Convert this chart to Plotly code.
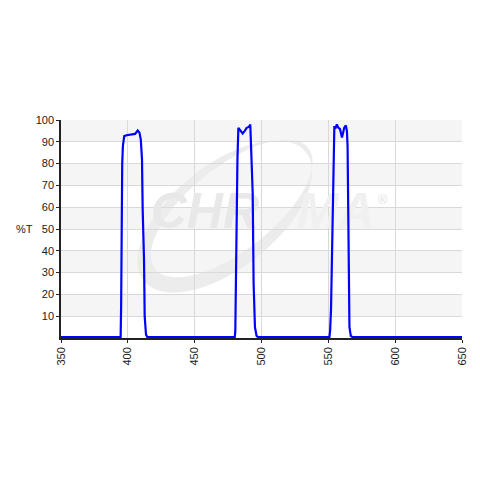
import numpy as np
import plotly.graph_objects as go

# Wavelength (nm) and transmission (%T)
wavelength = [350, 394.6, 395.0, 395.3, 395.8, 396.3, 397.3, 399, 401, 403, 405.4, 407.4, 408.7, 409.7,
              410.6, 411.1, 412.1, 412.6, 413.6, 414.6,
              480.0, 480.4, 481.0, 482.0, 482.7, 484.3, 485.9, 487.5, 488.9, 490.5, 491.6, 492.1, 493.4,
              494.1, 495.1, 496.3, 497.5,
              550.8, 551.3, 552.0, 553.2, 554.0, 554.5, 555.2, 556.4, 557.4, 558.7, 560.2, 561.9, 563.1,
              563.9, 564.4, 564.9, 565.4, 565.8, 566.8, 568.0, 650]
transmission = [0.4, 0.4, 15, 50, 80, 88, 92.6, 93.0, 93.3, 93.5, 93.6, 95.2, 94.2, 91,
                82, 59, 36, 10, 1.5, 0.4,
                0.4, 3, 45, 82, 96.4, 95.2, 93.8, 95.0, 96.4, 96.8, 97.9, 89.5, 66.6,
                25, 5, 1, 0.4,
                0.4, 3, 13, 59, 87, 97.2, 96.0, 98.0, 96.5, 95.9, 92.0, 96.5, 97.5,
                95, 88, 59, 28, 5, 1, 0.4, 0.4]

x_ticks = [350, 400, 450, 500, 550, 600, 650]
y_ticks = [10, 20, 30, 40, 50, 60, 70, 80, 90, 100]

# plot area in page pixels (for decoration placement)
PX0, PX1, PY0, PY1 = 61, 465, 338.5, 120.5


def to_paper(x, y):
    return (x - PX0) / (PX1 - PX0), (PY0 - y) / (PY0 - PY1)


def to_data(x, y):
    u, v = to_paper(x, y)
    return 350 + 300 * u, 100 * v


def ellipse(cx, cy, a, b, deg, reverse=False):
    t = np.linspace(0, 2 * np.pi, 90)
    if reverse:
        t = t[::-1]
    th = np.deg2rad(deg)
    ex = cx + a * np.cos(t) * np.cos(th) - b * np.sin(t) * np.sin(th)
    ey = cy - (a * np.cos(t) * np.sin(th) + b * np.sin(t) * np.cos(th))
    pts = [to_paper(u, v) for u, v in zip(ex, ey)]
    return "M " + " L ".join(f"{u:.4f},{v:.4f}" for u, v in pts) + " Z"


fig = go.Figure()

# alternating background bands
for lo in range(10, 100, 20):
    fig.add_shape(type="rect", xref="paper", x0=0, x1=1, yref="y", y0=lo, y1=lo + 10,
                  fillcolor="#f5f5f5", line_width=0, layer="below")

# watermark swoosh (crescent, decoration)
swoosh = ellipse(226, 217, 104, 52, 38) + " " + ellipse(233, 209, 98, 42, 38, reverse=True)
fig.add_shape(type="path", path=swoosh, xref="paper", yref="paper",
              fillcolor="#ececec", line_width=0, layer="below")

# watermark text drawn as a text trace so the curve stays on top of it
for txt, (px, py), size, col in [("<b><i>CHR</i></b>", (206, 216), 50, "#e8e8e8"),
                                 ("<b><i>MA</i></b>", (338, 216), 50, "#f0f0f0"),
                                 ("®", (385, 201), 13, "#e3e3e3")]:
    dx, dy = to_data(px, py)
    fig.add_trace(go.Scatter(x=[dx], y=[dy], mode="text", text=[txt],
                             textposition="middle center", cliponaxis=False,
                             textfont=dict(family="Liberation Sans", size=size, color=col),
                             showlegend=False, hoverinfo="skip"))

fig.add_trace(go.Scatter(x=wavelength, y=transmission, mode="lines",
                         line=dict(color="#0000ff", width=2.2), showlegend=False,
                         hoverinfo="skip"))

tx, ty = to_paper(24, 229)
fig.add_annotation(text="%T", xref="paper", yref="paper", x=tx, y=ty,
                   showarrow=False, xanchor="center",
                   font=dict(family="Liberation Sans", size=11, color="#222"))

fig.update_xaxes(range=[350, 650], tickvals=x_ticks, ticktext=[str(v) for v in x_ticks],
                 tickangle=-90, showgrid=True, gridcolor="#d9d9d9", gridwidth=1,
                 showline=True, linecolor="#222", linewidth=1.5,
                 ticks="outside", ticklen=3, tickcolor="#222",
                 tickfont=dict(family="Liberation Sans", size=11, color="#222"),
                 zeroline=False, fixedrange=True)
fig.update_yaxes(range=[0, 100], tickvals=y_ticks, ticktext=[str(v) for v in y_ticks],
                 showgrid=True, gridcolor="#d9d9d9", gridwidth=1,
                 showline=True, linecolor="#222", linewidth=1.5,
                 ticks="outside", ticklen=3, tickcolor="#222",
                 tickfont=dict(family="Liberation Sans", size=11, color="#222"),
                 zeroline=False, fixedrange=True)

# page body has an 8px margin: offset the figure so the plot area lands at the reference pixels
fig.update_layout(width=472, height=472, margin=dict(l=53, r=15, t=112, b=142),
                  paper_bgcolor="white", plot_bgcolor="white")

fig.write_html("out.html")
